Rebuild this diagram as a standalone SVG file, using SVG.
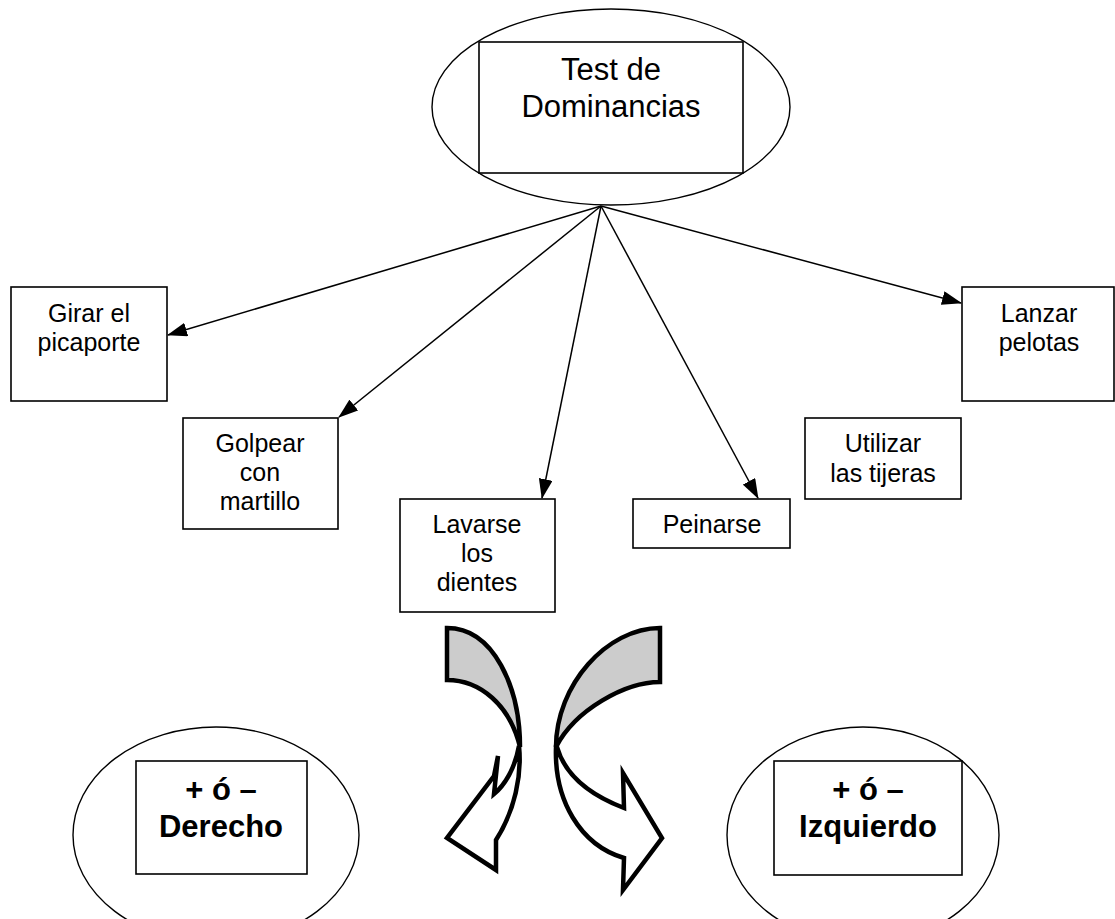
<svg xmlns="http://www.w3.org/2000/svg" width="1115" height="919" viewBox="0 0 1115 919">
  <defs>
    <marker id="head" viewBox="0 0 20 14" refX="19" refY="7" markerWidth="20" markerHeight="14" markerUnits="userSpaceOnUse" orient="auto">
      <path d="M0,0 L20,7 L0,14 Z" fill="#000"/>
    </marker>
    <style>
      .box { fill: #fff; stroke: #000; stroke-width: 1.6; }
      .oval { fill: #fff; stroke: #000; stroke-width: 1.4; }
      .lbl { font-family: "Liberation Sans", Arial, sans-serif; font-size: 25px; fill: #000; text-anchor: middle; }
      .title { font-family: "Liberation Sans", Arial, sans-serif; font-size: 31px; fill: #000; text-anchor: middle; }
      .res { font-family: "Liberation Sans", Arial, sans-serif; font-size: 31px; font-weight: bold; fill: #000; text-anchor: middle; }
      .link { stroke: #000; stroke-width: 1.5; fill: none; marker-end: url(#head); }
      .back { fill: #cccccc; stroke: #000; stroke-width: 4.5; stroke-linejoin: miter; }
      .front { fill: #fff; stroke: #000; stroke-width: 4.5; stroke-linejoin: miter; }
    </style>
  </defs>
  <rect width="1115" height="919" fill="#fff"/>

  <!-- root node -->
  <g id="test-dominancias">
    <ellipse class="oval" cx="611" cy="107" rx="179" ry="98"/>
    <rect class="box" x="479" y="42" width="264" height="131"/>
    <text class="title" x="611" y="80">Test de</text>
    <text class="title" x="611" y="117">Dominancias</text>
  </g>

  <!-- connectors from the root node -->
  <g id="connectors">
    <line class="link" x1="601" y1="206" x2="168" y2="335"/>
    <line class="link" x1="601" y1="206" x2="339" y2="417"/>
    <line class="link" x1="601" y1="206" x2="542" y2="498"/>
    <line class="link" x1="601" y1="206" x2="758" y2="498"/>
    <line class="link" x1="601" y1="206" x2="961" y2="303"/>
  </g>

  <g id="girar">
    <rect class="box" x="11" y="287" width="156" height="114"/>
    <text class="lbl" x="89" y="322">Girar el</text>
    <text class="lbl" x="89" y="351">picaporte</text>
  </g>

  <g id="golpear">
    <rect class="box" x="183" y="418" width="155" height="111"/>
    <text class="lbl" x="260" y="452">Golpear</text>
    <text class="lbl" x="260" y="481">con</text>
    <text class="lbl" x="260" y="510">martillo</text>
  </g>

  <g id="lavarse">
    <rect class="box" x="400" y="499" width="155" height="113"/>
    <text class="lbl" x="477" y="533">Lavarse</text>
    <text class="lbl" x="477" y="562">los</text>
    <text class="lbl" x="477" y="591">dientes</text>
  </g>

  <g id="peinarse">
    <rect class="box" x="633" y="499" width="157" height="49"/>
    <text class="lbl" x="712" y="533">Peinarse</text>
  </g>

  <g id="utilizar">
    <rect class="box" x="805" y="418" width="156" height="81"/>
    <text class="lbl" x="883" y="452">Utilizar</text>
    <text class="lbl" x="883" y="482">las tijeras</text>
  </g>

  <g id="lanzar">
    <rect class="box" x="962" y="287" width="152" height="114"/>
    <text class="lbl" x="1039" y="322">Lanzar</text>
    <text class="lbl" x="1039" y="351">pelotas</text>
  </g>

  <!-- curved block arrows -->
  <g id="curved-arrow-left">
    <path class="back" d="M447,628 C494,628 520,688 520,747 C510,705 480,680 447,680 Z"/>
    <path class="front" d="M519,746 C522,775 515,810 496,840 L496,870 L447,838 L494,776 L498,756 L494,794 C505,785 515,768 519,746 Z"/>
  </g>
  <g id="curved-arrow-right">
    <path class="back" d="M660,628 C607,628 556,685 556,747 C575,710 625,682 660,682 Z"/>
    <path class="front" d="M556,747 C554,800 580,845 624,858 L623,890 L662,838 L623,773 L624,808 C590,795 565,775 557,747 Z"/>
  </g>

  <g id="derecho">
    <ellipse class="oval" cx="216" cy="835" rx="143" ry="108"/>
    <rect class="box" x="136" y="761" width="171" height="113"/>
    <text class="res" x="221" y="800">+ ó –</text>
    <text class="res" x="221" y="837">Derecho</text>
  </g>

  <g id="izquierdo">
    <ellipse class="oval" cx="863" cy="835" rx="136" ry="108"/>
    <rect class="box" x="774" y="761" width="188" height="114"/>
    <text class="res" x="868" y="800">+ ó –</text>
    <text class="res" x="868" y="837">Izquierdo</text>
  </g>
</svg>
